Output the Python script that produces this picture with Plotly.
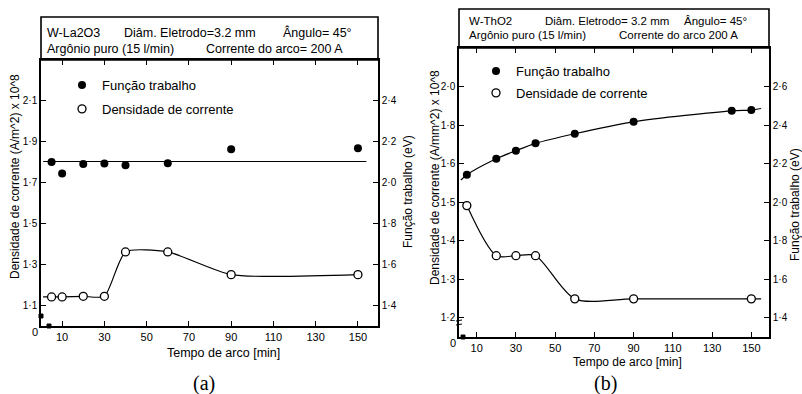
import plotly.graph_objects as go

W, H = 802, 394

# ---------------- data (a) W-La2O3 ----------------
a_time = [5, 10, 20, 30, 40, 60, 90, 150]
a_work = [2.102, 2.045, 2.092, 2.094, 2.086, 2.095, 2.164, 2.169]      # eV
a_dens = [1.142, 1.142, 1.145, 1.145, 1.362, 1.362, 1.251, 1.251]      # A/m^2 x 10^8
a_work_fit_x = [1, 154]
a_work_fit_y = [2.104, 2.104]
a_dens_lead_x, a_dens_lead_y = [1], [1.142]

# ---------------- data (b) W-ThO2 ----------------
b_time_work = [5, 20, 30, 40, 60, 90, 140, 150]
b_work = [2.142, 2.225, 2.267, 2.305, 2.355, 2.417, 2.474, 2.478]      # eV
b_time_dens = [5, 20, 30, 40, 60, 90, 150]
b_dens = [1.491, 1.361, 1.361, 1.361, 1.249, 1.249, 1.249]
b_work_ext = ([2], [2.115], [155], [2.486])
b_dens_ext_end = ([155], [1.249])

# ---------------- tick labels ----------------
x_ticks = [10, 30, 50, 70, 90, 110, 130, 150]
a_left_ticks = [1.1, 1.3, 1.5, 1.7, 1.9, 2.1]
a_right_ticks = [1.4, 1.6, 1.8, 2.0, 2.2, 2.4]
b_left_tickvals = [1.2, 1.3, 1.4, 1.5, 1.6, 1.7, 1.8]
b_left_ticktext = ["1·2", "1·3", "1·4", "1·5", "1·6", "1·8", "2·0"]
b_right_ticks = [1.4, 1.6, 1.8, 2.0, 2.2, 2.4, 2.6]

FONT = "Liberation Sans, Arial, sans-serif"

def px(x):
    return x / W

def py(y):
    return 1 - y / H

fig = go.Figure()

filled = dict(symbol="circle", size=8, color="black")
opened = dict(symbol="circle", size=8, color="white", line=dict(color="black", width=1.3))
lstyle = dict(color="black", width=1.2)

# (a) lines
fig.add_trace(go.Scatter(x=a_work_fit_x, y=a_work_fit_y, mode="lines", line=lstyle,
                         xaxis="x", yaxis="y2", showlegend=False, hoverinfo="skip"))
fig.add_trace(go.Scatter(x=a_dens_lead_x + a_time, y=a_dens_lead_y + a_dens, mode="lines",
                         line=dict(color="black", width=1.2, shape="spline", smoothing=0.6),
                         xaxis="x", yaxis="y", showlegend=False, hoverinfo="skip"))
# (a) markers
fig.add_trace(go.Scatter(x=a_time, y=a_work, mode="markers", marker=filled, name="Função trabalho",
                         xaxis="x", yaxis="y2", legend="legend", legendgroup="a1"))
fig.add_trace(go.Scatter(x=a_time, y=a_dens, mode="markers", marker=opened, name="Densidade de corrente",
                         xaxis="x", yaxis="y", legend="legend", legendgroup="a2"))

# (b) lines
fig.add_trace(go.Scatter(x=b_work_ext[0] + b_time_work + b_work_ext[2],
                         y=b_work_ext[1] + b_work + b_work_ext[3], mode="lines",
                         line=dict(color="black", width=1.2, shape="spline", smoothing=0.8),
                         xaxis="x2", yaxis="y4", showlegend=False, hoverinfo="skip"))
fig.add_trace(go.Scatter(x=b_time_dens + b_dens_ext_end[0], y=b_dens + b_dens_ext_end[1], mode="lines",
                         line=dict(color="black", width=1.2, shape="spline", smoothing=0.8),
                         xaxis="x2", yaxis="y3", showlegend=False, hoverinfo="skip"))
# (b) markers
fig.add_trace(go.Scatter(x=b_time_work, y=b_work, mode="markers", marker=filled, name="Função trabalho",
                         xaxis="x2", yaxis="y4", legend="legend2", legendgroup="b1"))
fig.add_trace(go.Scatter(x=b_time_dens, y=b_dens, mode="markers", marker=opened, name="Densidade de corrente",
                         xaxis="x2", yaxis="y3", legend="legend2", legendgroup="b2"))

axis_common = dict(showgrid=False, zeroline=False, showline=True, linecolor="black", linewidth=1.6,
                   ticks="inside", ticklen=5, tickwidth=1.2, tickcolor="black",
                   tickfont=dict(family=FONT, size=11, color="black"))
yfont = dict(family=FONT, size=10, color="black")

ad = [px(41), px(378)]
bd = [px(459), px(769)]
ayd = [py(326), py(60)]
byd = [py(337), py(48)]

fig.update_layout(
    width=W, height=H, margin=dict(l=0, r=0, t=0, b=0),
    paper_bgcolor="white", plot_bgcolor="white",
    separators="·,",
    font=dict(family=FONT, color="black"),
    xaxis=dict(axis_common, domain=ad, range=[0, 159.5], tickvals=x_ticks, mirror="ticks", anchor="y"),
    yaxis=dict(axis_common, domain=ayd, range=[1.0, 2.3], tickvals=a_left_ticks, anchor="x",
               tickformat=".1f", tickfont=yfont),
    yaxis2=dict(axis_common, overlaying="y", side="right", range=[1.3, 2.6], tickvals=a_right_ticks,
                anchor="x", tickformat=".1f", tickfont=yfont),
    xaxis2=dict(axis_common, domain=bd, range=[1, 159], tickvals=x_ticks, mirror="ticks", anchor="y3"),
    yaxis3=dict(axis_common, domain=byd, range=[1.15, 1.90], tickvals=b_left_tickvals,
                ticktext=b_left_ticktext, anchor="x2", tickfont=yfont),
    yaxis4=dict(axis_common, overlaying="y3", side="right", range=[1.30, 2.80], tickvals=b_right_ticks,
                anchor="x2", tickformat=".1f", tickfont=yfont),
    legend=dict(x=px(62), y=py(70), xanchor="left", yanchor="top", bgcolor="rgba(0,0,0,0)",
                font=dict(family=FONT, size=13, color="black"), tracegroupgap=4, traceorder="grouped"),
    legend2=dict(x=px(476), y=py(56), xanchor="left", yanchor="top", bgcolor="rgba(0,0,0,0)",
                 font=dict(family=FONT, size=13, color="black"), tracegroupgap=2, traceorder="grouped"),
)

blk = dict(color="black", width=1)
shapes = [
    dict(type="rect", xref="paper", yref="paper", x0=px(41), x1=px(378), y0=py(60), y1=py(17),
         line=dict(color="black", width=1.6)),
    dict(type="rect", xref="paper", yref="paper", x0=px(459), x1=px(769), y0=py(48), y1=py(9),
         line=dict(color="black", width=1.6)),
    # axis-break marks
    dict(type="rect", xref="paper", yref="paper", x0=px(39), x1=px(43), y0=py(318), y1=py(314),
         fillcolor="black", line=blk),
    dict(type="rect", xref="paper", yref="paper", x0=px(47), x1=px(51), y0=py(328), y1=py(324),
         fillcolor="black", line=blk),
    dict(type="line", xref="paper", yref="paper", x0=px(456), x1=px(462), y0=py(321), y1=py(320), line=blk),
    dict(type="line", xref="paper", yref="paper", x0=px(456), x1=px(462), y0=py(325), y1=py(324), line=blk),
    dict(type="rect", xref="paper", yref="paper", x0=px(461), x1=px(465), y0=py(339), y1=py(335),
         fillcolor="black", line=blk),
]
fig.update_layout(shapes=shapes)

ann = []
def text(x, y, s, size=12, xanchor="left", angle=0, family=FONT):
    ann.append(dict(x=px(x), y=py(y), xref="paper", yref="paper", text=s, showarrow=False,
                    xanchor=xanchor, yanchor="middle", textangle=angle,
                    font=dict(family=family, size=size, color="black")))

# headers (a)
text(45, 33, "W-La2O3", 12.5)
text(122, 33, "Diâm. Eletrodo=3.2 mm", 12.5)
text(281, 33, "Ângulo= 45°", 12.5)
text(45, 49, "Argônio puro (15 l/min)", 12.5)
text(204, 49, "Corrente do arco= 200 A", 12.5)
# headers (b)
text(467, 21, "W-ThO2", 11.5)
text(543, 21, "Diâm. Eletrodo= 3.2 mm", 11.5)
text(682, 21, "Ângulo= 45°", 11.5)
text(467, 35, "Argônio puro (15 l/min)", 11.5)
text(617, 35, "Corrente do arco 200 A", 11.5)

# axis titles
text(223, 353, "Tempo de arco [min]", 12.5, "center")
text(627, 362, "Tempo de arco [min]", 12, "center")
text(15, 177, "Densidade de corrente (A/m^2) x 10^8", 12, "center", -90)
text(408, 191, "Função trabalho (eV)", 12, "center", -90)
text(435, 178, "Densidade de corrente (A/mm^2) x 10^8", 12, "center", -90)
text(795, 205, "Função trabalho (eV)", 12, "center", -90)
# origin labels
text(35, 332, "0", 11, "center")
text(453, 343, "0", 11, "center")
# captions
text(204, 383, "(a)", 20, "center", family="Liberation Serif, Times New Roman, serif")
text(605, 383, "(b)", 20, "center", family="Liberation Serif, Times New Roman, serif")

fig.update_layout(annotations=ann)

fig.write_html("out.html")
